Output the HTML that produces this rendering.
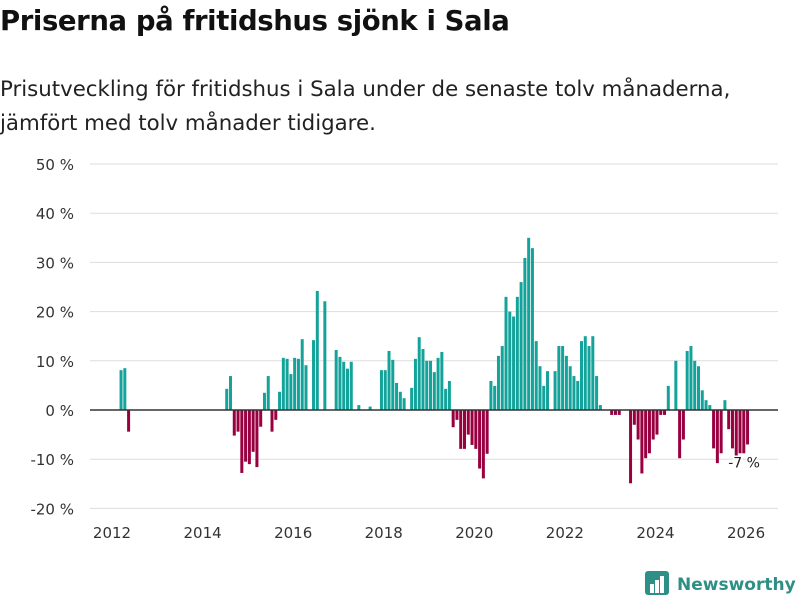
<!DOCTYPE html>
<html><head><meta charset="utf-8">
<style>
body{margin:0;background:#fff;font-family:"Liberation Sans","DejaVu Sans",sans-serif;}
#wrap{position:relative;width:800px;height:600px;overflow:hidden;}
h1{position:absolute;left:0;top:5px;margin:0;font-size:27.5px;font-weight:bold;color:#111;letter-spacing:-0.4px;font-family:"DejaVu Sans",sans-serif;}
.sub{position:absolute;left:0;top:73px;margin:0;font-size:21.3px;line-height:34px;color:#222;font-family:"DejaVu Sans",sans-serif;}
</style></head><body>
<div id="wrap">
<h1>Priserna på fritidshus sjönk i Sala</h1>
<p class="sub">Prisutveckling för fritidshus i Sala under de senaste tolv månaderna,<br>jämfört med tolv månader tidigare.</p>
<svg id="chart" width="800" height="600" style="position:absolute;left:0;top:0"></svg>
</div>
<script>
const monthIdx=[2,3,4,30,31,32,33,34,35,36,37,38,39,40,41,42,43,44,45,46,47,48,49,50,51,53,54,56,59,60,61,62,63,65,68,71,72,73,74,75,76,77,79,80,81,82,83,84,85,86,87,88,89,90,91,92,93,94,95,96,97,98,99,100,101,102,103,104,105,106,107,108,109,110,111,112,113,114,115,117,118,119,120,121,122,123,124,125,126,127,128,129,132,133,134,137,138,139,140,141,142,143,144,145,146,147,149,150,151,152,153,154,155,156,157,158,159,160,161,162,163,164,165,166,167,168];
const values=[8.1,8.5,-4.4,4.3,6.9,-5.2,-4.4,-12.8,-10.5,-11,-8.5,-11.6,-3.4,3.5,6.9,-4.4,-2,3.7,10.6,10.4,7.3,10.6,10.4,14.4,9.1,14.2,24.2,22.1,12.2,10.8,9.8,8.4,9.8,1,0.7,8.1,8.1,12,10.2,5.5,3.7,2.4,4.5,10.4,14.8,12.4,10,10,7.7,10.6,11.8,4.3,5.9,-3.5,-2,-7.9,-7.9,-5,-7.1,-7.9,-11.9,-13.9,-8.9,5.9,4.9,11,13,23,20,19,23,26,30.9,35,32.9,14,8.9,4.9,7.9,7.9,13,13,11,8.9,6.9,5.9,14,15,13,15,6.9,1,-1,-1,-1,-14.9,-3,-6,-12.9,-9.8,-8.8,-6,-5,-1,-1,4.9,10,-9.8,-6,12,13,10,8.9,4,2,1,-7.8,-10.8,-8.8,2,-3.9,-7.8,-9.3,-8.8,-8.8,-7];
const yTicks=[-20,-10,0,10,20,30,40,50];
const xTicks=[2012,2014,2016,2018,2020,2022,2024,2026];
const lastLabel="-7 %";

const NS="http://www.w3.org/2000/svg";
const svg=document.getElementById('chart');
const y=v=>410-v*4.92;
const x=yr=>112+(yr-2012)*45.29;
function mk(t,a){const e=document.createElementNS(NS,t);for(const k in a)e.setAttribute(k,a[k]);svg.appendChild(e);return e;}
yTicks.forEach(t=>{
  const g=mk('line',{x1:90,x2:778,y1:y(t),y2:y(t),stroke:'#dddddd','stroke-width':1});
  
  
  const l=mk('text',{x:74,y:y(t)+6,'text-anchor':'end','font-size':15,fill:'#333','font-family':'DejaVu Sans, sans-serif'});
  l.textContent=t+' %';
  
  
});
xTicks.forEach(t=>{
  const l=mk('text',{x:x(t),y:538,'text-anchor':'middle','font-size':15,fill:'#333','font-family':'DejaVu Sans, sans-serif'});
  l.textContent=t;
  
  
});
monthIdx.forEach((m,i)=>{
  const v=values[i];const x0=x(2012+m/12);
  const b=mk('rect',{x:x0,width:3,y:Math.min(y(v),y(0)),height:Math.abs(y(v)-y(0)),fill:v>=0?'#14a39a':'#990040'});
  
  
});
const z=mk('line',{x1:90,x2:778,y1:y(0),y2:y(0),stroke:'#333','stroke-width':1.5});


const lm=monthIdx[monthIdx.length-1],lv=values[values.length-1];
const lab=mk('text',{x:x(2012+lm/12)-2,y:y(lv)+23,'text-anchor':'middle','font-size':14,fill:'#222',stroke:'#fff','stroke-width':3,'paint-order':'stroke','font-family':'DejaVu Sans, sans-serif'});
lab.textContent=lastLabel;


// logo
const lg=mk('g',{});


const r=document.createElementNS(NS,'rect');
[['x',645],['y',571],['width',24],['height',24],['rx',3],['fill','#2d8f85']].forEach(a=>r.setAttribute(a[0],a[1]));lg.appendChild(r);
[[650,584,4],[655,580,4],[660,576,4]].forEach(p=>{const bb=document.createElementNS(NS,'rect');bb.setAttribute('x',p[0]);bb.setAttribute('y',p[1]);bb.setAttribute('width',p[2]);bb.setAttribute('height',593-p[1]);bb.setAttribute('fill','#fff');lg.appendChild(bb);});
const tt=document.createElementNS(NS,'text');
tt.setAttribute('x',677);tt.setAttribute('y',590);tt.setAttribute('font-size',17);tt.setAttribute('font-weight','bold');tt.setAttribute('fill','#2d8f85');tt.setAttribute('font-family','DejaVu Sans, sans-serif');
tt.textContent='Newsworthy';lg.appendChild(tt);
</script>
</body></html>
